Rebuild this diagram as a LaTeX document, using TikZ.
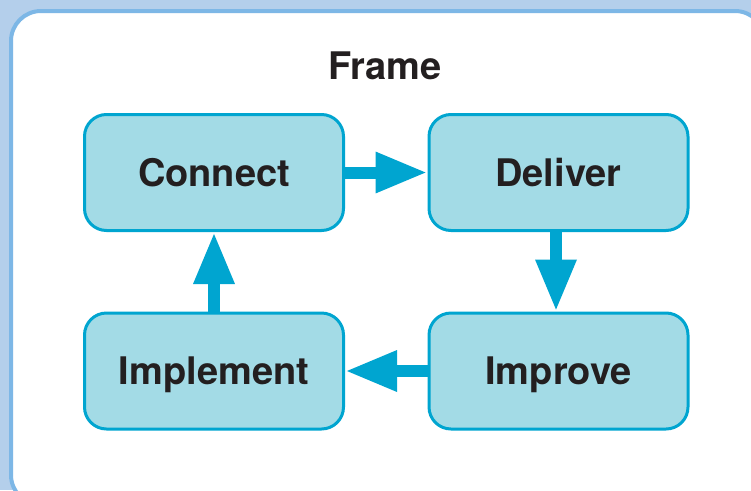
\documentclass[tikz,border=0pt]{standalone}
\usepackage{fontspec}
\setmainfont{TeX Gyre Heros}
\usetikzlibrary{arrows.meta}
\definecolor{bgblue}{RGB}{180,207,235}
\definecolor{frameblue}{RGB}{125,183,230}
\definecolor{boxfill}{RGB}{163,219,230}
\definecolor{boxline}{RGB}{0,165,208}
\definecolor{txt}{RGB}{35,31,32}
\tikzset{
  bigtext/.style={font=\fontsize{38}{44}\selectfont\bfseries, text=txt, text height=27pt, text depth=0pt, inner sep=0pt},
  stepbox/.style={bigtext, draw=boxline, fill=boxfill, line width=3pt, rounded corners=22pt,
    minimum width=259pt, minimum height=116pt},
  bigarrow/.style={draw=boxline, line width=12pt, -{Triangle[length=52pt,width=38pt]}},
}
\begin{document}
\begin{tikzpicture}[x=1pt,y=-1pt]
\useasboundingbox (0,0) rectangle (751,490);
\fill[bgblue] (0,0) rectangle (751,490);
\draw[frameblue, fill=white, line width=4pt, rounded corners=30pt] (11,11) rectangle (765,505);
\node[bigtext] (title) at (385,66) {Frame};
\node[stepbox] (c) at (214,172.5) {Connect};
\node[stepbox] (d) at (558.5,172.5) {Deliver};
\node[stepbox] (m) at (214,371) {Implement};
\node[stepbox] (i) at (558.5,371) {Improve};
\draw[bigarrow] (c.east) -- (d.west);
\draw[bigarrow] ([xshift=-2.5pt]d.south) -- ([xshift=-2.5pt]i.north);
\draw[bigarrow] (i.west) -- (m.east);
\draw[bigarrow] (m.north) -- (c.south);
\end{tikzpicture}
\end{document}
